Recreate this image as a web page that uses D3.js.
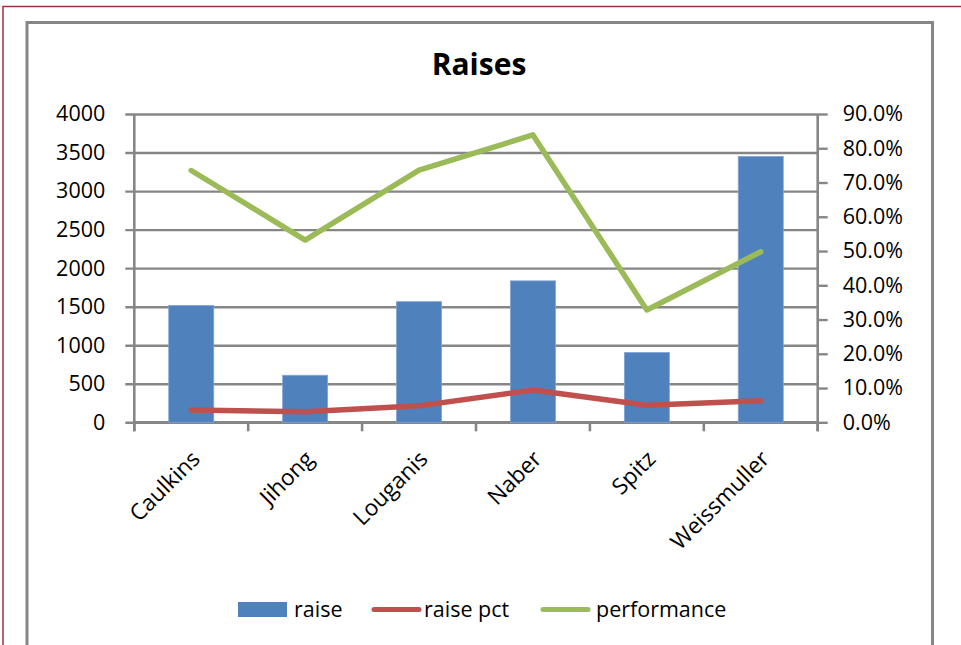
<!DOCTYPE html>
<html>
<head>
<meta charset="utf-8">
<script src="https://cdn.jsdelivr.net/npm/d3@7"></script>
<style>
  html, body { margin: 0; padding: 0; background: #fff; }
  svg { display: block; font-family: "Open Sans", "DejaVu Sans", sans-serif; }
</style>
</head>
<body>
<svg id="chart" width="961" height="645"></svg>
<script>
// Employees and their raise figures
const categories = ["Caulkins", "Jihong", "Louganis", "Naber", "Spitz", "Weissmuller"];
const raise = [1515, 610, 1565, 1835, 905, 3450];
const raisePct = [0.036, 0.031, 0.048, 0.094, 0.050, 0.063];
const performance = [0.735, 0.532, 0.736, 0.839, 0.328, 0.498];

const leftTicks = [0, 500, 1000, 1500, 2000, 2500, 3000, 3500, 4000];
const rightTicks = [0, 0.1, 0.2, 0.3, 0.4, 0.5, 0.6, 0.7, 0.8, 0.9];

const seriesNames = ["raise", "raise pct", "performance"];
const colors = { raise: "#4F81BD", pct: "#C0504D", perf: "#9BBB59" };
const gray = "#868686";
const labelSize = 21.5;

const svg = d3.select("#chart");

// page frame and chart area frame
svg.append("path")
  .attr("d", "M3,645 V6.5 H961")
  .attr("fill", "none").attr("stroke", "#A3303F").attr("stroke-width", 1.5);
svg.append("path")
  .attr("d", "M27,645 V22.5 H932.5 V645")
  .attr("fill", "none").attr("stroke", gray).attr("stroke-width", 3);

const plot = { left: 134.3, right: 817.7, top: 114, bottom: 422.3 };

const x = d3.scaleBand().domain(categories).range([plot.left, plot.right]).padding(0);
const y = d3.scaleLinear().domain([0, 4000]).range([plot.bottom, plot.top]);
const y2 = d3.scaleLinear().domain([0, 0.9]).range([plot.bottom, plot.top]);

// title
svg.append("text")
  .attr("x", 479).attr("y", 75)
  .attr("text-anchor", "middle")
  .attr("font-weight", "bold").attr("font-size", 30)
  .attr("fill", "#000")
  .text("Raises");

// horizontal gridlines (also act as the outer left ticks)
const grid = svg.append("g")
  .attr("transform", `translate(${plot.right},0)`)
  .call(d3.axisLeft(y).tickValues(leftTicks).tickSize(plot.right - plot.left + 9).tickFormat(""));
grid.select(".domain").remove();
grid.selectAll("line").attr("stroke", gray).attr("stroke-width", 2.4);

// left axis labels
const yAxis = svg.append("g")
  .attr("transform", `translate(${plot.left},0)`)
  .call(d3.axisLeft(y).tickValues(leftTicks).tickSize(0).tickPadding(29)
    .tickFormat(d3.format("d")));
yAxis.select(".domain").attr("stroke", gray).attr("stroke-width", 2.6)
  .attr("d", `M0,${plot.top}V${plot.bottom + 9}`);
yAxis.selectAll("text").attr("font-size", labelSize).attr("fill", "#000")
  .attr("font-family", "'Open Sans', sans-serif");

// right axis
const y2Axis = svg.append("g")
  .attr("transform", `translate(${plot.right},0)`)
  .call(d3.axisRight(y2).tickValues(rightTicks).tickSize(10).tickPadding(15)
    .tickFormat(d3.format(".1%")));
y2Axis.select(".domain").attr("stroke", gray).attr("stroke-width", 2.6)
  .attr("d", `M0,${plot.top}V${plot.bottom + 9}`);
y2Axis.selectAll("line").attr("stroke", gray).attr("stroke-width", 2.4);
y2Axis.selectAll("text").attr("font-size", labelSize).attr("fill", "#000")
  .attr("font-family", "'Open Sans', sans-serif");

// category axis: baseline plus boundary ticks
const bounds = categories.map(c => x(c)).concat([x.range()[1]]);
svg.append("line")
  .attr("x1", plot.left).attr("x2", plot.right)
  .attr("y1", y(0)).attr("y2", y(0))
  .attr("stroke", gray).attr("stroke-width", 2.6);
svg.append("g").selectAll("line").data(bounds).join("line")
  .attr("x1", d => d).attr("x2", d => d)
  .attr("y1", y(0)).attr("y2", y(0) + 9)
  .attr("stroke", gray).attr("stroke-width", 2.6);

// bars
const barW = x.bandwidth() * 0.395;
svg.append("g").selectAll("rect").data(categories).join("rect")
  .attr("x", (c) => x(c) + x.bandwidth() / 2 - barW / 2)
  .attr("y", (c, i) => y(raise[i]))
  .attr("width", barW)
  .attr("height", (c, i) => y(0) - y(raise[i]))
  .attr("fill", colors.raise)
  .attr("stroke", "#7FA3D3").attr("stroke-width", 0.8);

// lines on the secondary axis
const cx = c => x(c) + x.bandwidth() / 2;
const line = d3.line().x(d => cx(d.c)).y(d => y2(d.v));
svg.append("path")
  .datum(categories.map((c, i) => ({ c, v: raisePct[i] })))
  .attr("d", line)
  .attr("fill", "none").attr("stroke", colors.pct)
  .attr("stroke-width", 5.5).attr("stroke-linecap", "round").attr("stroke-linejoin", "round");
svg.append("path")
  .datum(categories.map((c, i) => ({ c, v: performance[i] })))
  .attr("d", line)
  .attr("fill", "none").attr("stroke", colors.perf)
  .attr("stroke-width", 5.5).attr("stroke-linecap", "round").attr("stroke-linejoin", "round");

// rotated category labels
svg.append("g").selectAll("text").data(categories).join("text")
  .attr("transform", c => `translate(${cx(c) + 10},${y(0) + 38}) rotate(-45)`)
  .attr("text-anchor", "end")
  .attr("font-size", 22.5).attr("fill", "#000")
  .text(c => c);

// legend
const legend = svg.append("g").attr("font-size", labelSize);
legend.append("rect").attr("x", 238).attr("y", 602).attr("width", 49).attr("height", 15)
  .attr("fill", colors.raise);
legend.append("text").attr("x", 294).attr("y", 617).text(seriesNames[0]);
legend.append("line").attr("x1", 374).attr("x2", 419).attr("y1", 609.5).attr("y2", 609.5)
  .attr("stroke", colors.pct).attr("stroke-width", 5).attr("stroke-linecap", "round");
legend.append("text").attr("x", 424).attr("y", 617).text(seriesNames[1]);
legend.append("line").attr("x1", 543).attr("x2", 588).attr("y1", 609.5).attr("y2", 609.5)
  .attr("stroke", colors.perf).attr("stroke-width", 5).attr("stroke-linecap", "round");
legend.append("text").attr("x", 596).attr("y", 617).text(seriesNames[2]);
</script>
</body>
</html>
